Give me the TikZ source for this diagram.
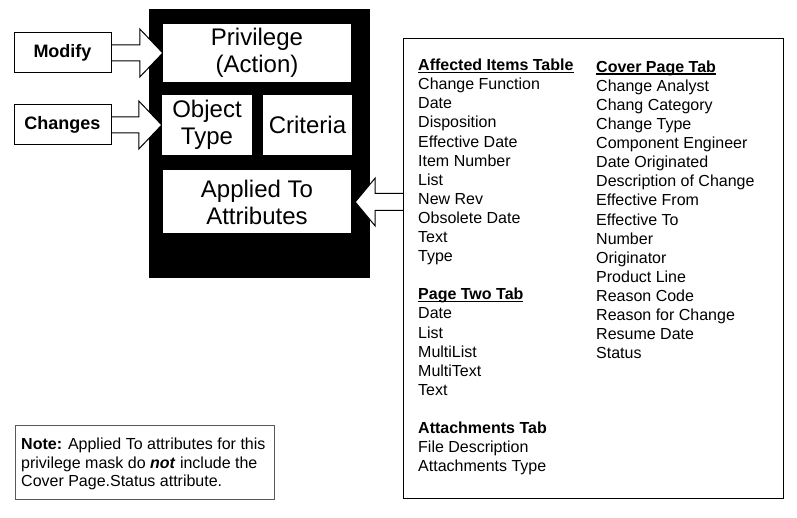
\documentclass[tikz,border=0pt]{standalone}
\usepackage{fontspec}
\setmainfont{Liberation Sans}
\usetikzlibrary{calc}
\newcommand{\tabhead}[1]{\textbf{\setbox0\hbox{#1}\rlap{\rule[-2.4pt]{\wd0}{1.2pt}}\box0}}
\pgfdeclarelayer{frame layer}
\pgfdeclarelayer{arrow layer}
\pgfsetlayers{frame layer,arrow layer,main}

\begin{document}
\begin{tikzpicture}[
    x=1pt,y=-1pt,
    mask frame/.style={fill=black,inner sep=0pt,anchor=north west},
    mask part/.style={fill=white,inner sep=0pt,align=center,font=\fontsize{24}{27}\selectfont},
    side box/.style={draw,line width=1pt,fill=white,inner sep=0pt,minimum width=97pt,minimum height=40pt,font=\fontsize{18}{21}\selectfont\bfseries},
    block arrow/.style={draw,fill=white,line width=1pt,line join=miter},
    attr/.style={inner sep=0pt,anchor=base west,font=\fontsize{16}{19}\selectfont},
  ]
  \useasboundingbox (0,0) rectangle (797,518);

  % privilege mask
  \begin{pgfonlayer}{frame layer}
    \node[mask frame,minimum width=221pt,minimum height=269pt] (mask) at (149,9) {};
  \end{pgfonlayer}
  \node[mask part,minimum width=188pt,minimum height=58pt] (privilege) at (257,53) {Privilege\\(Action)};
  \node[mask part,minimum width=90pt,minimum height=60pt] (objtype) at (207,125) {Object\\Type};
  \node[mask part,minimum width=89pt,minimum height=60pt] (criteria) at (307.5,125) {Criteria};
  \node[mask part,minimum width=188pt,minimum height=63pt] (applied) at (257,202) {Applied To\\Attributes};

  \node[side box] (modify) at (62.5,53) {Modify};
  \node[side box] (changes) at (62.5,125) {Changes};

  % attribute lists
  \node[draw,line width=1pt,inner sep=0pt,anchor=north west,minimum width=380pt,minimum height=460pt] (attrs) at (403,38) {};

  \foreach \txt [count=\k from 0] in {{\tabhead{Affected Items Table}},Change Function,Date,Disposition,Effective Date,Item Number,List,New Rev,Obsolete Date,Text,Type} {
    \node[attr] (affected-\k) at ($ (attrs.north west) + (15,32.7+19.1*\k) $) {\txt};
  }
  \foreach \txt [count=\k from 12] in {{\tabhead{Page Two Tab}},Date,List,MultiList,MultiText,Text} {
    \node[attr] (pagetwo-\k) at ($ (attrs.north west) + (15,32.7+19.1*\k) $) {\txt};
  }
  \foreach \txt [count=\k from 19] in {{\textbf{Attachments Tab}},File Description,Attachments Type} {
    \node[attr] (attach-\k) at ($ (attrs.north west) + (15,32.7+19.1*\k) $) {\txt};
  }
  \foreach \txt [count=\k from 0] in {{\tabhead{Cover Page Tab}},Change Analyst,Chang Category,Change Type,Component Engineer,Date Originated,Description of Change,Effective From,Effective To,Number,Originator,Product Line,Reason Code,Reason for Change,Resume Date,Status} {
    \node[attr] (cover-\k) at ($ (attrs.north west) + (193,34.3+19.1*\k) $) {\txt};
  }

  % arrows
  \coordinate (applied tip) at ($ (applied.east) + (4,0) $);
  \begin{pgfonlayer}{arrow layer}
    \draw[block arrow] ($ (modify.east) + (0,-8) $) -- ($ (privilege.west) + (-23,-8) $) -- ($ (privilege.west) + (-23,-24) $)
      -- (privilege.west) -- ($ (privilege.west) + (-23,24) $) -- ($ (privilege.west) + (-23,8) $) -- ($ (modify.east) + (0,8) $);
    \draw[block arrow] ($ (changes.east) + (0,-8) $) -- ($ (objtype.west) + (-23,-8) $) -- ($ (objtype.west) + (-23,-24) $)
      -- (objtype.west) -- ($ (objtype.west) + (-23,24) $) -- ($ (objtype.west) + (-23,8) $) -- ($ (changes.east) + (0,8) $);
    \draw[block arrow] ($ (applied tip -| attrs.west) + (0,-8.5) $) -- ($ (applied tip) + (20,-8.5) $) -- ($ (applied tip) + (20,-24) $)
      -- (applied tip) -- ($ (applied tip) + (20,24) $) -- ($ (applied tip) + (20,8.5) $) -- ($ (applied tip -| attrs.west) + (0,8.5) $);
  \end{pgfonlayer}

  % note
  \node[draw=black!65,line width=0.8pt,inner sep=0pt,anchor=north west,minimum width=259pt,minimum height=74pt] (note) at (15,425) {};
  \node[inner sep=0pt,anchor=west,align=left,font=\fontsize{16}{18.4}\selectfont] (note text) at ($ (note.west) + (6,1.5) $)
    {\textbf{Note:} Applied To attributes for this\\privilege mask do \textbf{\textit{not}} include the\\Cover Page.Status attribute.};
\end{tikzpicture}
\end{document}
